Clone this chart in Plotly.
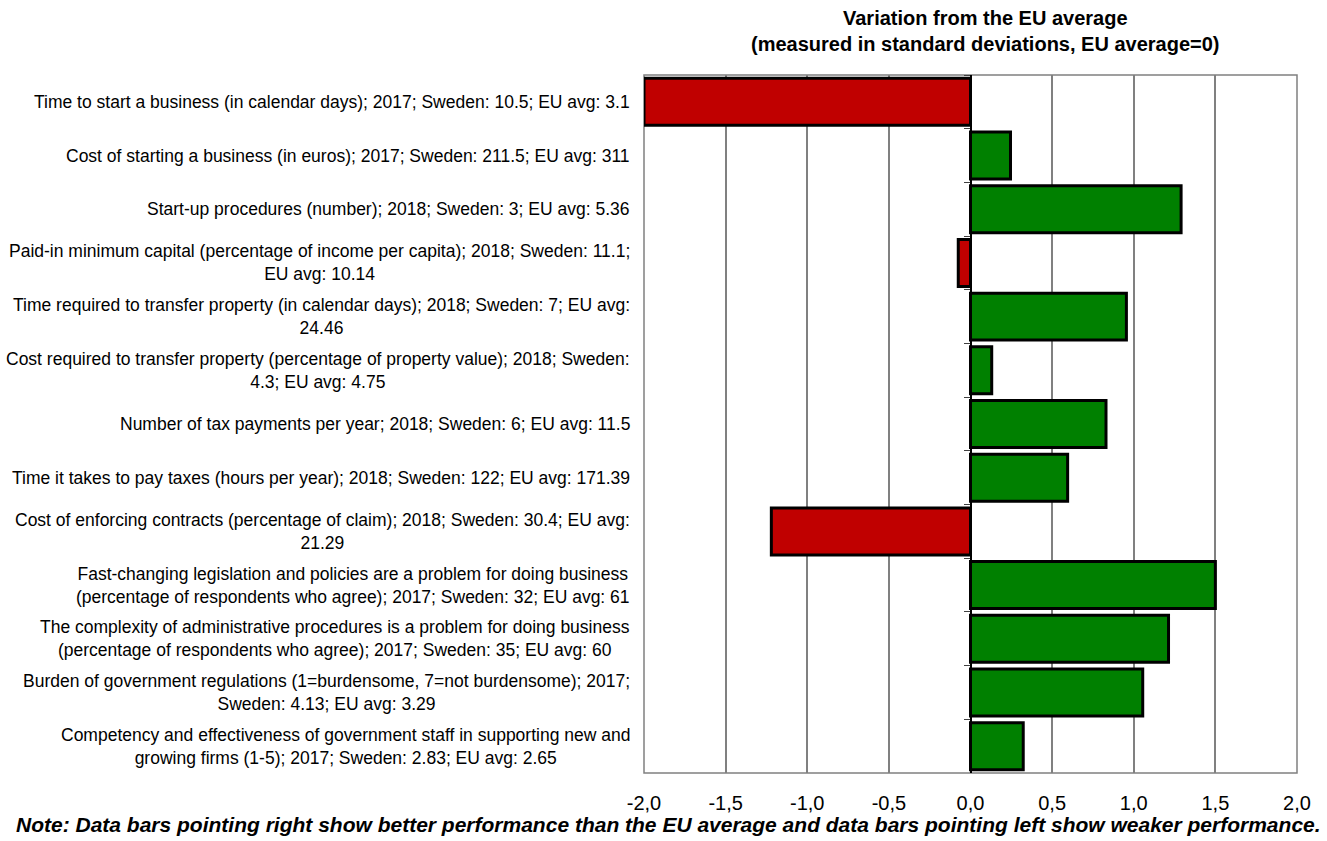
import plotly.graph_objects as go

categories = [
    "Time to start a business (in calendar days); 2017; Sweden: 10.5; EU avg: 3.1",
    "Cost of starting a business (in euros); 2017; Sweden: 211.5; EU avg: 311",
    "Start-up procedures (number); 2018; Sweden: 3; EU avg: 5.36",
    "Paid-in minimum capital (percentage of income per capita); 2018; Sweden: 11.1;<br>EU avg: 10.14",
    "Time required to transfer property (in calendar days); 2018; Sweden: 7; EU avg:<br>24.46",
    "Cost required to transfer property (percentage of property value); 2018; Sweden:<br>4.3; EU avg: 4.75",
    "Number of tax payments per year; 2018; Sweden: 6; EU avg: 11.5",
    "Time it takes to pay taxes (hours per year); 2018; Sweden: 122; EU avg: 171.39",
    "Cost of enforcing contracts (percentage of claim); 2018; Sweden: 30.4; EU avg:<br>21.29",
    "Fast-changing legislation and policies are a problem for doing business<br>(percentage of respondents who agree); 2017; Sweden: 32; EU avg: 61",
    "The complexity of administrative procedures is a problem for doing business<br>(percentage of respondents who agree); 2017; Sweden: 35; EU avg: 60",
    "Burden of government regulations (1=burdensome, 7=not burdensome); 2017;<br>Sweden: 4.13; EU avg: 3.29",
    "Competency and effectiveness of government staff in supporting new and<br>growing firms (1-5); 2017; Sweden: 2.83; EU avg: 2.65",
]
values = [-2.0, 0.245, 1.29, -0.075, 0.955, 0.13, 0.83, 0.595, -1.22, 1.50, 1.213, 1.055, 0.323]
tick_values = [-2.0, -1.5, -1.0, -0.5, 0.0, 0.5, 1.0, 1.5, 2.0]
tick_labels = ["-2,0", "-1,5", "-1,0", "-0,5", "0,0", "0,5", "1,0", "1,5", "2,0"]

title_text = "<b>Variation from the EU average<br>(measured in standard deviations, EU average=0)</b>"
note_text = "<b><i>Note: Data bars pointing right show better performance than the EU average and data bars pointing left show weaker performance.</i></b>"

FONT = "Liberation Sans, Arial, sans-serif"

colors = ["#C00000" if v < 0 else "#008000" for v in values]

fig = go.Figure()
fig.add_trace(go.Bar(
    x=values, y=categories, orientation="h",
    marker=dict(color=colors, line=dict(color="black", width=3)),
    showlegend=False,
))

W, H = 1327, 841
L, R, T, B = 644, 1297, 75, 773

for c in categories:
    fig.add_annotation(
        x=(632 - L) / (R - L), xref="paper", y=c, yref="y",
        text=c, showarrow=False, xanchor="right", align="center",
        font=dict(family=FONT, size=17.5, color="black"),
    )

fig.add_annotation(
    x=(985 - L) / (R - L), xref="paper", y=(B - 31) / (B - T),
    yref="paper", text=title_text, showarrow=False, xanchor="center", yanchor="middle",
    font=dict(family=FONT, size=20, color="black"),
)

fig.add_annotation(
    x=(1323 - L) / (R - L), xref="paper", y=(B - 824) / (B - T), yref="paper",
    text=note_text, showarrow=False, xanchor="right", yanchor="middle",
    font=dict(family=FONT, size=21, color="black"),
)

fig.add_shape(type="rect", xref="x domain", yref="y domain", x0=0, x1=1, y0=0, y1=1,
              line=dict(color="#808080", width=1.5), layer="below")

fig.update_layout(
    width=W, height=H,
    margin=dict(l=L, r=W - R, t=T, b=H - B),
    paper_bgcolor="white", plot_bgcolor="white",
    bargap=0.125,
    xaxis=dict(range=[-2, 2], tickvals=tick_values, ticktext=tick_labels,
               showgrid=True, gridcolor="#808080", gridwidth=1.5,
               zeroline=False, ticks="", ticklabelstandoff=16,
               tickfont=dict(family=FONT, size=20, color="black")),
    yaxis=dict(autorange="reversed", showticklabels=False, showgrid=False,
               anchor="free", position=0.5, showline=True, linecolor="black", linewidth=2,
               ticks="outside", tickson="boundaries", ticklen=6, tickcolor="#404040"),
)

fig.write_html("out.html")
